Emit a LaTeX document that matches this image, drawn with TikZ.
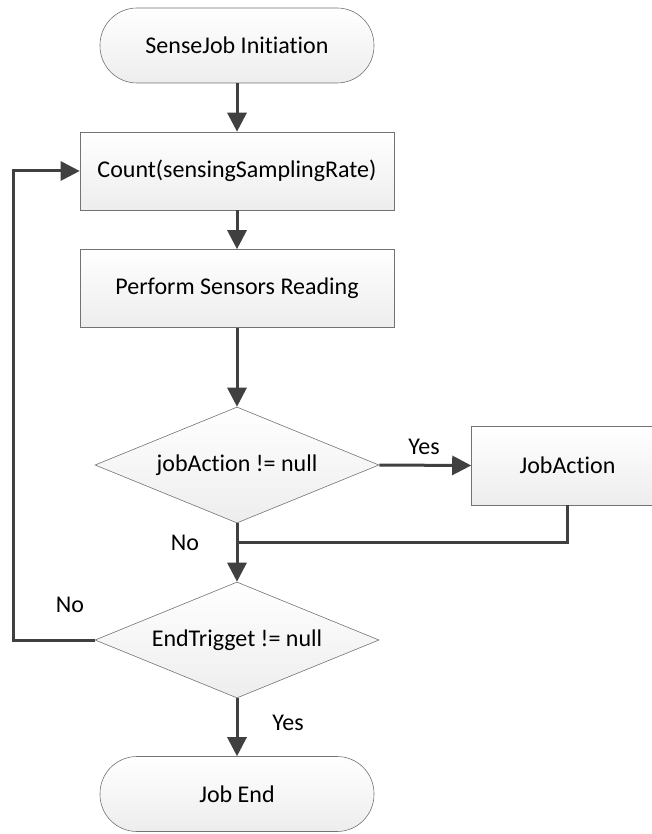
\documentclass[tikz,border=0pt]{standalone}
\usepackage{fontspec}
\setmainfont{Carlito}[Ligatures={NoCommon}]
\usetikzlibrary{shapes.geometric,arrows.meta}
\begin{document}
\begin{tikzpicture}[x=1pt,y=-1pt,
  font=\fontsize{24}{28}\selectfont,
  shapebase/.style={draw=black!55, line width=0.6pt, top color=white, bottom color=black!7},
  terminal/.style={shapebase, rounded corners=37pt, minimum width=274pt, minimum height=75pt},
  procbox/.style={shapebase, minimum width=314pt, minimum height=78pt},
  smallbox/.style={shapebase, minimum width=192pt, minimum height=79pt},
  decision/.style={shapebase, diamond, aspect=2.45, minimum width=284pt, minimum height=116pt, inner sep=0pt},
  flow/.style={draw=black!75, line width=3pt, -{Triangle[length=19pt,width=19pt]}},
  flowline/.style={draw=black!75, line width=3pt},
  lbl/.style={inner sep=0pt}
]
\useasboundingbox (0,0) rectangle (652,834);
\clip (0,0) rectangle (652,834);

\node[terminal] (start) at (237,45.5) {SenseJob Initiation};
\node[procbox] (count) at (237,171) {Count(sensingSamplingRate)};
\node[procbox] (read) at (237,288.5) {Perform Sensors Reading};
\node[decision] (act) at (237,465) {jobAction != null};
\node[smallbox] (job) at (567.5,465.5) {JobAction};
\node[decision] (endq) at (237,640) {EndTrigget != null};
\node[terminal] (stop) at (237,794) {Job End};

\coordinate (merge) at (237,542);
\coordinate (jobdrop) at (job.south |- merge);
\coordinate (loopA) at (13,640);
\coordinate (loopB) at (13,171);

\draw[flow] (start) -- (count);
\draw[flow] (count) -- (read);
\draw[flow] (read) -- (act.north);
\draw[flow] (act.east) -- (job.west);
\draw[flowline] (job.south) -- (jobdrop) -- (merge);
\draw[flow] (act.south) -- (endq.north);
\draw[flow] (endq.west) -- (loopA) -- (loopB) -- (count.west);
\draw[flow] (endq.south) -- (stop.north);

\node[lbl] (yes1) at (424,447) {Yes};
\node[lbl] (no1) at (185,543) {No};
\node[lbl] (no2) at (70,605) {No};
\node[lbl] (yes2) at (288,723) {Yes};
\end{tikzpicture}
\end{document}
